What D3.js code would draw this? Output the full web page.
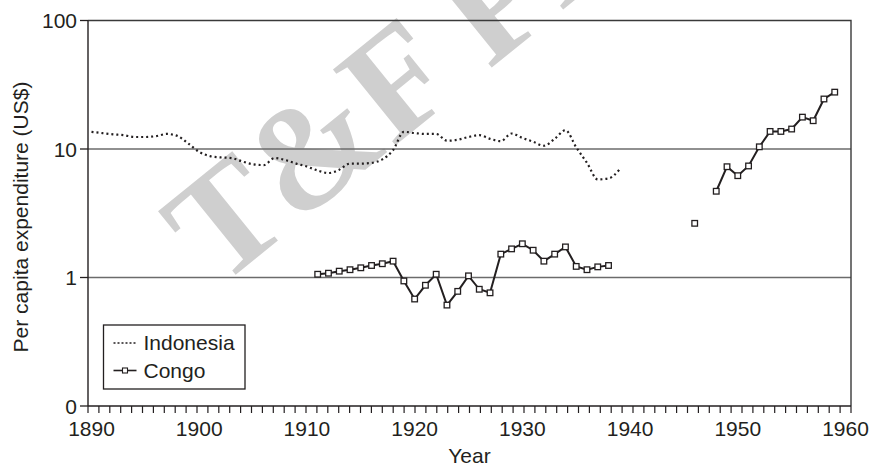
<!DOCTYPE html>
<html>
<head>
<meta charset="utf-8">
<script src="https://cdn.jsdelivr.net/npm/d3@7"></script>
<style>
    body { margin: 0; background: #fff; }
    svg text { font-family: "Liberation Sans", Arial, sans-serif; fill: #231f20; }
</style>
</head>
<body>
<div id="chart"></div>
<script>
/*global d3 */
'use strict';

// Data //
// ---- //
var indonesiaYears = [1890, 1891, 1892, 1893, 1894, 1895, 1896, 1897, 1898, 1899,
                      1900, 1901, 1902, 1903, 1904, 1905, 1906, 1907, 1908, 1909,
                      1910, 1911, 1912, 1913, 1914, 1915, 1916, 1917, 1918, 1919,
                      1920, 1921, 1922, 1923, 1924, 1925, 1926, 1927, 1928, 1929,
                      1930, 1931, 1932, 1933, 1934, 1935, 1936, 1937, 1938, 1939];
var indonesiaValues = [13.6, 13.3, 13.0, 12.8, 12.4, 12.4, 12.6, 13.1, 12.6, 11.0,
                       9.5, 8.8, 8.6, 8.5, 8.0, 7.6, 7.5, 8.5, 8.2, 7.7,
                       7.3, 6.8, 6.5, 6.9, 7.7, 7.7, 7.8, 8.3, 9.8, 13.6,
                       13.3, 13.1, 13.1, 11.6, 11.8, 12.4, 12.8, 12.0, 11.5, 13.2,
                       12.2, 11.4, 10.6, 12.0, 14.0, 10.3, 7.8, 5.8, 5.9, 6.9];

var congoYears = [1911, 1912, 1913, 1914, 1915, 1916, 1917, 1918, 1919, 1920,
                  1921, 1922, 1923, 1924, 1925, 1926, 1927, 1928, 1929, 1930,
                  1931, 1932, 1933, 1934, 1935, 1936, 1937, 1938,
                  1946, 1948, 1949, 1950, 1951, 1952, 1953, 1954, 1955, 1956,
                  1957, 1958, 1959];
var congoValues = [1.06, 1.08, 1.12, 1.15, 1.19, 1.24, 1.28, 1.34, 0.94, 0.68,
                   0.87, 1.06, 0.61, 0.78, 1.03, 0.81, 0.76, 1.52, 1.67, 1.83,
                   1.63, 1.34, 1.52, 1.73, 1.22, 1.15, 1.21, 1.24,
                   2.64, 4.69, 7.28, 6.2, 7.38, 10.4, 13.7, 13.7, 14.3, 17.7,
                   16.6, 24.5, 27.7];

var xTickValues = [1890, 1900, 1910, 1920, 1930, 1940, 1950, 1960];
var yTickValues = [0.1, 1, 10, 100];
var yTickLabels = ["0", "1", "10", "100"];
var gridValues = [1, 10];
var seriesNames = ["Indonesia", "Congo"];

// Setup //
// ----- //
var width = 870,
    height = 468,
    ink = "#231f20",
    svg = d3.select("#chart").append("svg")
        .attr("width", width)
        .attr("height", height);

// data + labels sit on a slightly narrower span than the frame / year ticks
var x = d3.scaleLinear().domain([1890, 1960]).range([91.5, 845.5]),
    xFrame = d3.scaleLinear().domain([1890, 1960]).range([88, 851]),
    y = d3.scaleLog().domain([0.1, 100]).range([406, 20.5]);

// watermark (behind everything)
svg.append("text")
    .attr("transform", "translate(218,289) rotate(-39)")
    .style("font-family", "'Liberation Serif', 'DejaVu Serif', serif")
    .style("font-weight", "bold")
    .style("font-size", "150px")
    .style("fill", "#cfcfcf")
    .text("T&F Proofs");

// gridlines
svg.append("g").selectAll("line")
    .data(gridValues)
    .enter()
    .append("line")
    .attr("x1", xFrame(1890))
    .attr("x2", xFrame(1960))
    .attr("y1", function (d) { return y(d); })
    .attr("y2", function (d) { return y(d); })
    .attr("stroke", "#6b6b6b")
    .attr("stroke-width", 1.3);

// frame: top + right
svg.append("path")
    .attr("d", "M" + xFrame(1890) + "," + y(100) + "H" + xFrame(1960) + "V" + y(0.1))
    .attr("fill", "none")
    .attr("stroke", "#3a3a3a")
    .attr("stroke-width", 1.4);

// Axes //
// ---- //
var xAxis = svg.append("g")
    .attr("transform", "translate(0," + y(0.1) + ")");

xAxis.append("line")
    .attr("x1", xFrame(1890))
    .attr("x2", xFrame(1960))
    .attr("stroke", ink)
    .attr("stroke-width", 1.4);

xAxis.selectAll(".minor")
    .data(d3.range(1890, 1961))
    .enter()
    .append("line")
    .attr("class", "minor")
    .attr("x1", function (d) { return xFrame(d); })
    .attr("x2", function (d) { return xFrame(d); })
    .attr("y1", 0)
    .attr("y2", 7)
    .attr("stroke", ink)
    .attr("stroke-width", 1.2);

xAxis.selectAll(".xlab")
    .data(xTickValues)
    .enter()
    .append("text")
    .attr("class", "xlab")
    .attr("x", function (d) { return x(d); })
    .attr("y", 30)
    .attr("text-anchor", "middle")
    .style("font-size", "21px")
    .text(function (d) { return d; });

var yAxis = svg.append("g")
    .attr("transform", "translate(" + xFrame(1890) + ",0)");

yAxis.append("line")
    .attr("y1", y(100))
    .attr("y2", y(0.1))
    .attr("stroke", ink)
    .attr("stroke-width", 1.4);

yAxis.selectAll(".ytick")
    .data(yTickValues)
    .enter()
    .append("line")
    .attr("class", "ytick")
    .attr("x1", -8)
    .attr("x2", 0)
    .attr("y1", function (d) { return y(d); })
    .attr("y2", function (d) { return y(d); })
    .attr("stroke", ink)
    .attr("stroke-width", 1.3);

yAxis.selectAll(".ylab")
    .data(yTickValues)
    .enter()
    .append("text")
    .attr("class", "ylab")
    .attr("x", -11)
    .attr("y", function (d) { return y(d); })
    .attr("dy", "0.36em")
    .attr("text-anchor", "end")
    .style("font-size", "21px")
    .text(function (d, i) { return yTickLabels[i]; });

svg.append("text")
    .attr("transform", "translate(28,217) rotate(-90)")
    .attr("text-anchor", "middle")
    .style("font-size", "21px")
    .text("Per capita expenditure (US$)");

svg.append("text")
    .attr("x", (xFrame(1890) + xFrame(1960)) / 2)
    .attr("y", 463)
    .attr("text-anchor", "middle")
    .style("font-size", "21px")
    .text("Year");

// Series //
// ------ //
var indonesia = indonesiaYears.map(function (yr, i) {
    return {year: yr, value: indonesiaValues[i]};
});
var congo = congoYears.map(function (yr, i) {
    return {year: yr, value: congoValues[i]};
});

svg.append("path")
    .datum(indonesia)
    .attr("fill", "none")
    .attr("stroke", ink)
    .attr("stroke-width", 2.2)
    .attr("stroke-dasharray", "2,3")
    .attr("d", d3.line()
        .curve(d3.curveMonotoneX)
        .x(function (d) { return x(d.year); })
        .y(function (d) { return y(d.value); }));

// congo line breaks wherever a year is missing
var congoSegments = [];
congo.forEach(function (d, i) {
    if (i === 0 || d.year - congo[i - 1].year > 1) {
        congoSegments.push([]);
    }
    congoSegments[congoSegments.length - 1].push(d);
});

var congoLine = d3.line()
    .x(function (d) { return x(d.year); })
    .y(function (d) { return y(d.value); });

svg.append("g").selectAll("path")
    .data(congoSegments)
    .enter()
    .append("path")
    .attr("fill", "none")
    .attr("stroke", ink)
    .attr("stroke-width", 2)
    .attr("d", congoLine);

svg.append("g").selectAll("rect")
    .data(congo)
    .enter()
    .append("rect")
    .attr("x", function (d) { return x(d.year) - 2.8; })
    .attr("y", function (d) { return y(d.value) - 2.8; })
    .attr("width", 5.6)
    .attr("height", 5.6)
    .attr("fill", "#fff")
    .attr("stroke", ink)
    .attr("stroke-width", 1.3);

// Legend //
// ------ //
var legend = svg.append("g").attr("transform", "translate(103.5,325)");

legend.append("rect")
    .attr("width", 141.5)
    .attr("height", 64)
    .attr("fill", "#fff")
    .attr("stroke", ink)
    .attr("stroke-width", 1.3);

legend.append("line")
    .attr("x1", 10).attr("x2", 33)
    .attr("y1", 18).attr("y2", 18)
    .attr("stroke", ink)
    .attr("stroke-width", 1.6)
    .attr("stroke-dasharray", "2,2");

legend.append("line")
    .attr("x1", 10).attr("x2", 33)
    .attr("y1", 45.5).attr("y2", 45.5)
    .attr("stroke", ink)
    .attr("stroke-width", 1.6);

legend.append("rect")
    .attr("x", 19).attr("y", 43)
    .attr("width", 5).attr("height", 5)
    .attr("fill", "#fff")
    .attr("stroke", ink)
    .attr("stroke-width", 1.1);

legend.selectAll(".ltext")
    .data(seriesNames)
    .enter()
    .append("text")
    .attr("class", "ltext")
    .attr("x", 40)
    .attr("y", function (d, i) { return 25 + i * 27.7; })
    .style("font-size", "21px")
    .text(function (d) { return d; });
</script>
</body>
</html>
